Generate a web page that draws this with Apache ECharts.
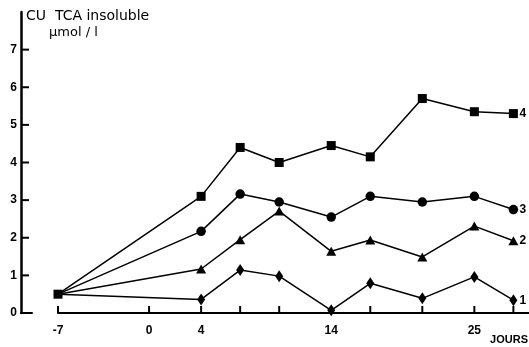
<!DOCTYPE html>
<html>
<head>
<meta charset="utf-8">
<script src="https://cdn.jsdelivr.net/npm/echarts@6/dist/echarts.min.js"></script>
<style>
  html, body { margin: 0; padding: 0; background: #fff; }
  #chart { width: 529px; height: 347px; }
</style>
</head>
<body>
<div id="chart"></div>
<script>
// jours de prélèvement
const days = [-7, 4, 7, 10, 14, 17, 21, 25, 28];
// CU TCA insoluble (µmol/l), courbes 1 à 4
const curve4 = [0.5, 3.1, 4.4, 4.0, 4.45, 4.15, 5.7, 5.35, 5.3];
const curve3 = [0.5, 2.17, 3.16, 2.95, 2.55, 3.1, 2.95, 3.1, 2.75];
const curve2 = [0.5, 1.17, 1.95, 2.71, 1.64, 1.94, 1.49, 2.31, 1.92];
const curve1 = [0.5, 0.36, 1.14, 0.98, 0.07, 0.79, 0.39, 0.96, 0.34];
const xTickValues = [-7, 0, 4, 7, 10, 14, 17, 21, 25, 28];
const xLabelValues = [-7, 0, 4, 14, 25];
const yLabelValues = [0, 1, 2, 3, 4, 5, 6, 7];
const yTickValues = [1, 2, 3, 4, 5, 6, 7];

const chart = echarts.init(document.getElementById('chart'));

const FONT = 'Liberation Sans';

// construit les points; le premier point (J-7) est commun, dessiné par la courbe 4
function toPoints(vals, keepFirst) {
  return vals.map((v, i) => {
    if (i === 0 && !keepFirst) return { value: [days[i], v], symbol: 'none' };
    return [days[i], v];
  });
}

function makeSeries(name, vals, symbol, size, keepFirst) {
  return {
    name: name,
    type: 'line',
    xAxisIndex: 1,
    yAxisIndex: 1,
    data: toPoints(vals, keepFirst),
    symbol: symbol,
    symbolSize: size,
    showAllSymbol: true,
    lineStyle: { color: '#000', width: 1.5 },
    itemStyle: { color: '#000' },
    endLabel: {
      show: true,
      formatter: name,
      distance: 6,
      color: '#000',
      fontFamily: FONT,
      fontWeight: 'bold',
      fontSize: 12
    },
    z: 3
  };
}

// petits traits de graduation tournés vers l'intérieur (symboles seuls, sans trait)
function tickSeries(xi, yi, points, size, offset) {
  return {
    type: 'line',
    xAxisIndex: xi,
    yAxisIndex: yi,
    data: points,
    symbol: 'rect',
    symbolSize: size,
    symbolOffset: offset,
    showAllSymbol: true,
    lineStyle: { width: 0, opacity: 0 },
    itemStyle: { color: '#000' },
    clip: false,
    silent: true,
    z: 4
  };
}

const option = {
  animation: false,
  backgroundColor: '#fff',
  grid: [
    // axe vertical seul
    { left: 21, top: 12, bottom: 34, width: 11 },
    // zone des courbes
    { left: 58, top: 12, bottom: 34, right: 0 }
  ],
  xAxis: [
    {
      gridIndex: 0,
      type: 'value',
      min: 0,
      max: 1,
      axisLine: { show: true, lineStyle: { color: '#000', width: 2 } },
      axisTick: { show: false },
      axisLabel: { show: false },
      splitLine: { show: false }
    },
    {
      gridIndex: 1,
      type: 'value',
      min: -7,
      max: 29.2,
      axisLine: { show: true, lineStyle: { color: '#000', width: 2 } },
      axisTick: { show: false },
      axisLabel: {
        show: true,
        customValues: xLabelValues,
        margin: 12,
        color: '#000',
        fontFamily: FONT,
        fontWeight: 'bold',
        fontSize: 12
      },
      splitLine: { show: false }
    }
  ],
  yAxis: [
    {
      gridIndex: 0,
      type: 'value',
      min: 0,
      max: 8,
      interval: 1,
      axisLine: { show: true, lineStyle: { color: '#000', width: 2.5 } },
      axisTick: { show: false },
      axisLabel: {
        show: true,
        customValues: yLabelValues,
        margin: 4,
        padding: [0, 0, 6, 0],
        color: '#000',
        fontFamily: FONT,
        fontWeight: 'bold',
        fontSize: 12
      },
      splitLine: { show: false }
    },
    {
      gridIndex: 1,
      type: 'value',
      min: 0,
      max: 8,
      show: false,
      splitLine: { show: false }
    }
  ],
  graphic: [
    {
      type: 'text',
      left: 26,
      top: 9,
      style: {
        text: 'CU  TCA insoluble',
        fill: '#000',
        font: '14px "DejaVu Sans"'
      }
    },
    {
      type: 'text',
      left: 49,
      top: 26,
      style: {
        text: 'μmol / l',
        fill: '#000',
        font: '13px "DejaVu Sans"'
      }
    },
    {
      type: 'text',
      right: 1,
      top: 334,
      style: {
        text: 'JOURS',
        fill: '#000',
        font: 'bold 11px "Liberation Sans"'
      }
    }
  ],
  series: [
    tickSeries(0, 0, yTickValues.map(v => [0, v]), [8, 2], [4, 0]),
    tickSeries(1, 1, xTickValues.map(v => [v, 0]), [2, 7], [0, -3.5]),
    makeSeries('4', curve4, 'rect', 9, true),
    makeSeries('3', curve3, 'circle', 9.5, false),
    makeSeries('2', curve2, 'triangle', [10, 9], false),
    makeSeries('1', curve1, 'diamond', [8, 12], false)
  ]
};

chart.setOption(option);
</script>
</body>
</html>
